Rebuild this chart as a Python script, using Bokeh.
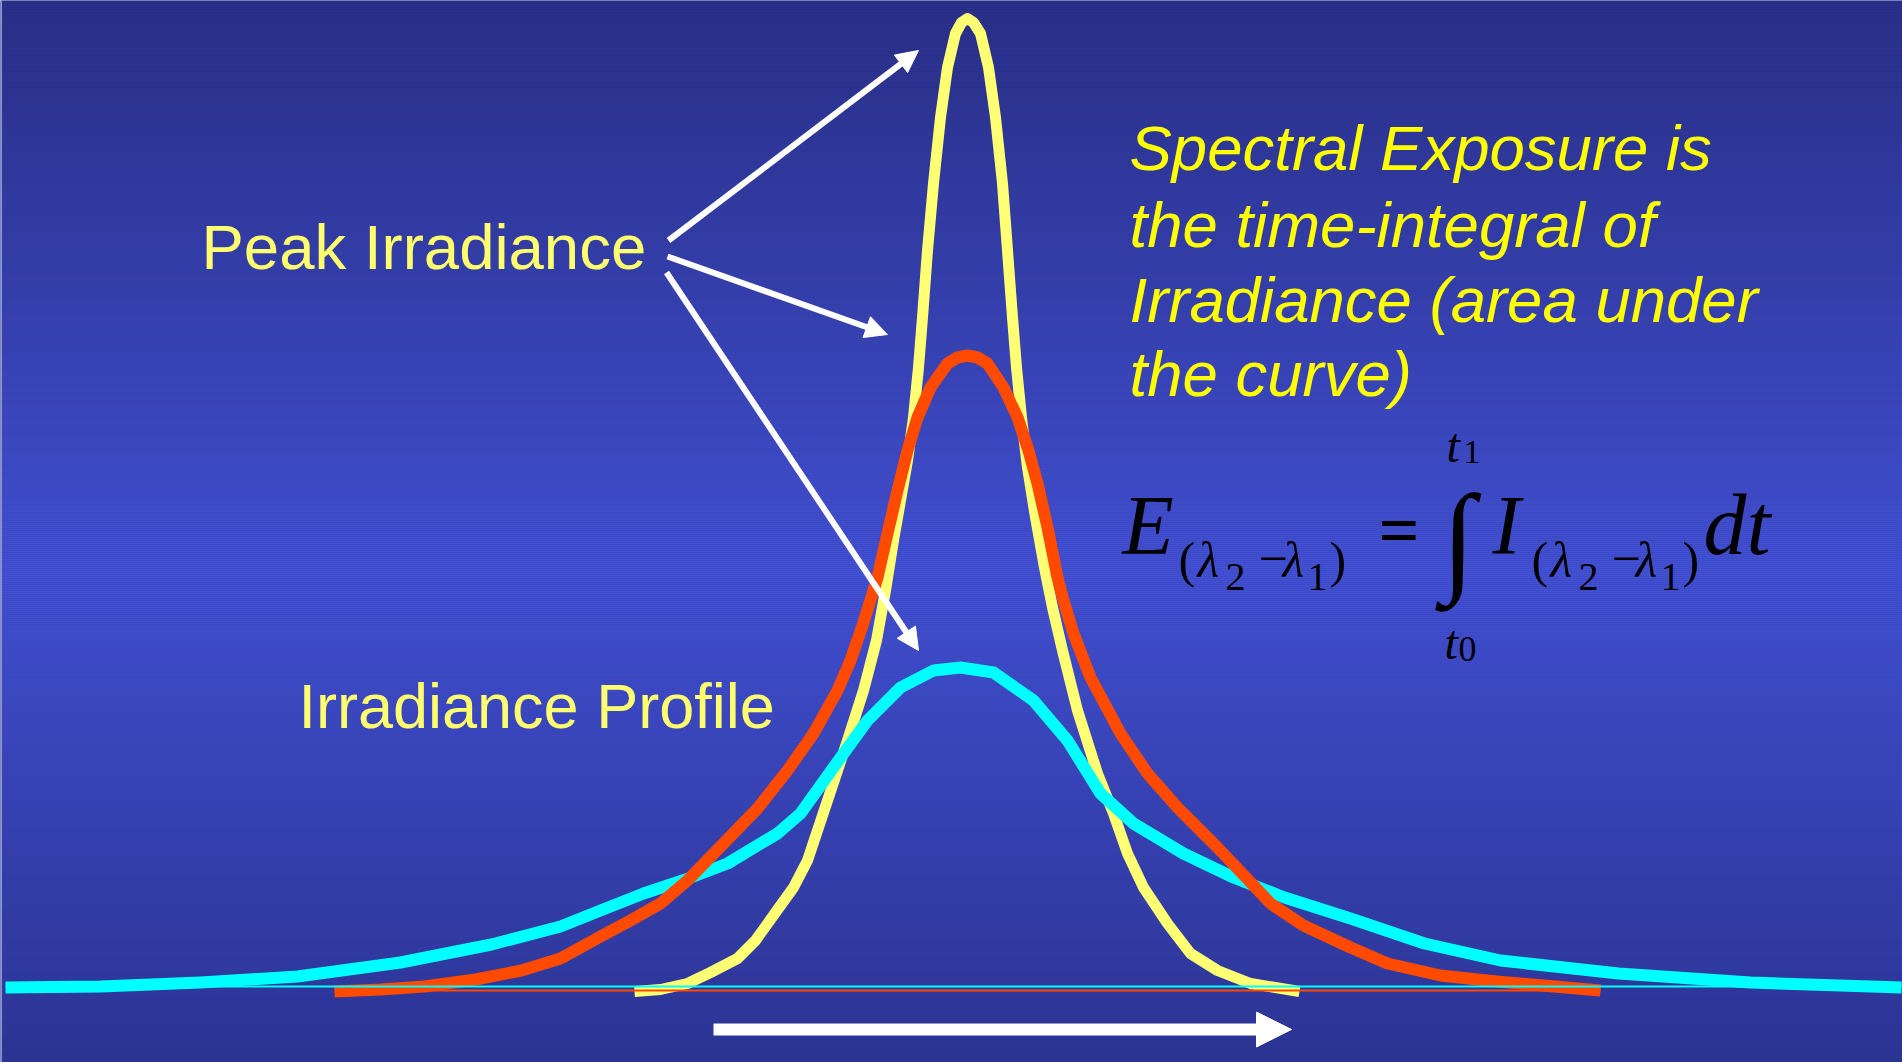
import numpy as np
from bokeh.plotting import figure
from bokeh.models import Range1d, Arrow, NormalHead, Label
from bokeh.embed import file_html
from bokeh.resources import INLINE

W, H = 1902, 1062

# Time is measured from the pulse peak, irradiance from the zero line.
T_MIN, T_MAX = -966, 936
E_MIN, E_MAX = -72, 990

# Short, intense pulse
short_t = [-332, -306, -279, -256, -229, -211, -191, -173, -159, -139, -119, -103,
           -90, -81, -73, -66, -59, -53, -48, -44, -39, -33, -26, -19, -11, -5, 1,
           7, 14, 22, 29, 36, 41, 46, 50, 55, 61, 69, 78, 86, 96, 111, 131, 147,
           161, 177, 201, 224, 251, 284, 333]
short_e = [-1, 1, 7, 18, 32, 50, 78, 103, 130, 190, 250, 300,
           350, 400, 450, 490, 530, 573, 623, 673, 740, 807, 873, 923, 957, 968, 972,
           968, 957, 923, 873, 807, 740, 673, 623, 573, 523, 473, 423, 383, 340, 280, 217, 177,
           137, 103, 67, 37, 20, 7, -1]

# Medium pulse
mid_t = [-632, -586, -542, -491, -445, -406, -366, -336, -306, -279, -243, -209,
         -179, -153, -129, -116, -103, -89, -79, -69, -59, -49, -36, -19, -9, 1,
         11, 21, 37, 51, 62, 71, 81, 91, 97, 107, 124, 154, 181, 211, 251, 304,
         337, 384, 421, 474, 530, 634]
mid_e = [-1, 1, 4, 11, 20, 32, 54, 70, 87, 110, 147, 182,
         220, 257, 300, 330, 368, 413, 457, 500, 540, 573, 603, 627, 633, 635,
         633, 627, 603, 573, 540, 507, 463, 413, 390, 357, 313, 257, 217, 183, 143, 87,
         65, 43, 27, 15, 9, 0]

# Long, low pulse
long_t = [-961, -866, -766, -669, -566, -475, -406, -366, -323, -281, -239, -189,
          -166, -133, -99, -66, -33, -6, 27, 67, 101, 134, 167, 217, 267, 318,
          384, 458, 534, 652, 784, 935]
long_e = [3, 4, 8, 14, 28, 46, 64, 80, 97, 111, 127, 157,
          177, 223, 270, 303, 320, 323, 318, 290, 250, 197, 167, 137, 113, 93,
          72, 47, 30, 17, 8, 3]

# Zero lines drawn under each pulse
long_base = 4
mid_base = 0

YELLOW_CURVE = "#FFFF73"
RED_CURVE = "#FF4A00"
CYAN_CURVE = "#00FFFF"
LABEL_YELLOW = "#FFFF6E"
NOTE_YELLOW = "#FFFF00"


def pos(px, py):
    """Page pixel position -> plot data position."""
    return px + T_MIN, E_MAX - py


p = figure(width=W, height=H, x_range=Range1d(T_MIN, T_MAX), y_range=Range1d(E_MIN, E_MAX),
           toolbar_location=None, output_backend="svg", min_border=0,
           x_axis_location=None, y_axis_location=None)
p.xgrid.visible = False
p.ygrid.visible = False
p.outline_line_color = None
p.background_fill_color = "#3640A8"
p.border_fill_color = "#3640A8"

# Vertical background gradient: dark top, bright middle, dark bottom
stops_y = [0, 570, 1062]
stops_rgb = [(38, 44, 128), (66, 80, 212), (42, 50, 143)]
rows = np.arange(0, H, 2)
cols = []
for r in rows:
    c = [int(round(np.interp(r + 1, stops_y, [s[k] for s in stops_rgb]))) for k in range(3)]
    cols.append("#%02x%02x%02x" % tuple(c))
p.quad(left=T_MIN, right=T_MAX, top=E_MAX - rows, bottom=E_MAX - rows - 2,
       fill_color=cols, line_color=None)
edge_x, _ = pos(0.8, 0)
p.segment(x0=edge_x, y0=E_MIN, x1=edge_x, y1=E_MAX, line_color="#8c92c8", line_width=1.5)

# Pulses
p.line(short_t, short_e, line_color=YELLOW_CURVE, line_width=11, line_join="round", line_cap="butt")
p.line(long_t, long_e, line_color=CYAN_CURVE, line_width=12, line_join="round", line_cap="butt")
p.line(mid_t, mid_e, line_color=RED_CURVE, line_width=12, line_join="round", line_cap="butt")

# Thin zero lines
p.line([long_t[0], T_MAX], [long_base, long_base], line_color=CYAN_CURVE, line_width=2)
p.line([mid_t[0], mid_t[-1]], [mid_base, mid_base], line_color=RED_CURVE, line_width=2)

# Pointer arrows from the "Peak Irradiance" label
for (x0, y0), (x1, y1) in [((668, 240), (918, 50)),
                           ((667, 256), (887, 334)),
                           ((666, 272), (918, 650))]:
    xs, ys = pos(x0, y0)
    xe, ye = pos(x1, y1)
    p.add_layout(Arrow(x_start=xs, y_start=ys, x_end=xe, y_end=ye,
                       line_color="white", line_width=6,
                       end=NormalHead(size=22, fill_color="white", line_color="white", line_width=1)))

# Time arrow
xs, ys = pos(713, 1029)
xe, ye = pos(1291, 1029)
p.add_layout(Arrow(x_start=xs, y_start=ys, x_end=xe, y_end=ye,
                   line_color="white", line_width=12, line_cap="butt",
                   end=NormalHead(size=35, fill_color="white", line_color="white", line_width=1)))


def label(px, py, text, size, color, font="Liberation Sans", style="normal"):
    # py is the wanted baseline; the label anchor sits a little above it
    x, y = pos(px, py - 0.36 * size)
    p.add_layout(Label(x=x, y=y, text=text, text_font=font, text_font_size=f"{size}px",
                       text_color=color, text_font_style=style,
                       text_align="left", text_baseline="alphabetic"))


label(201, 269, "Peak Irradiance", 63.5, LABEL_YELLOW)
label(298, 728, "Irradiance Profile", 63, LABEL_YELLOW)

for i, line in enumerate(["Spectral Exposure is", "the time-integral of",
                          "Irradiance (area under", "the curve)"]):
    label(1129, [170, 247, 322, 396][i], line, 63.5, NOTE_YELLOW, style="italic")

# Exposure formula
SERIF = "Liberation Serif"
BLACK = "#000000"
label(1122, 555, "E", 84, BLACK, SERIF, "italic")


def subscript(x0):
    label(x0, 577, "(", 50, BLACK, SERIF)
    label(x0 + 19, 577, "λ", 50, BLACK, SERIF, "italic")
    label(x0 + 47, 591, "2", 40, BLACK, SERIF)
    label(x0 + 80, 577, "\u2212", 52, BLACK, SERIF)
    label(x0 + 104, 577, "λ", 50, BLACK, SERIF, "italic")
    label(x0 + 129, 591, "1", 40, BLACK, SERIF)
    label(x0 + 151, 577, ")", 50, BLACK, SERIF)


subscript(1178)
label(1378, 555, "=", 72, BLACK, SERIF, "bold")
label(1440, 581, "\u222b", 122, BLACK, SERIF, "bold italic")
label(1446, 462, "t", 48, BLACK, SERIF, "italic")
label(1463, 464, "1", 34, BLACK, SERIF)
label(1444, 659, "t", 48, BLACK, SERIF, "italic")
label(1458, 661, "0", 36, BLACK, SERIF)
label(1492, 555, "I", 84, BLACK, SERIF, "italic")
subscript(1531)
label(1703, 555, "dt", 86, BLACK, SERIF, "italic")

open("out.html", "w").write(file_html(p, INLINE))
